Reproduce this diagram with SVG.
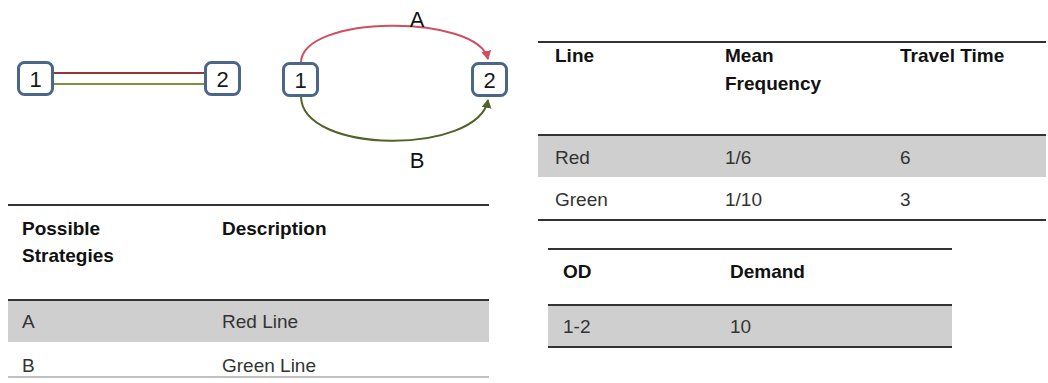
<svg xmlns="http://www.w3.org/2000/svg" width="1048" height="383" viewBox="0 0 1048 383">
<style>
.node{fill:#fff;stroke:#4a6689;stroke-width:3}
.nl{font-family:"Liberation Sans",Arial,sans-serif;font-size:22px;fill:#1a1a1a;text-anchor:middle}
.el{font-family:"Liberation Sans",Arial,sans-serif;font-size:22px;fill:#111;text-anchor:middle}
.th{font-family:"Liberation Sans",Arial,sans-serif;font-size:19px;font-weight:bold;fill:#111}
.td{font-family:"Liberation Sans",Arial,sans-serif;font-size:19px;fill:#333}
.rule{stroke:#333;stroke-width:2}
.band{fill:#cfcfcf}
</style>
<defs>
<marker id="arR" markerWidth="10" markerHeight="10" refX="8" refY="5" orient="auto" markerUnits="userSpaceOnUse">
<path d="M0,0 L9,5 L0,10 z" fill="#cf4f5f"/>
</marker>
<marker id="arG" markerWidth="10" markerHeight="10" refX="8" refY="5" orient="auto" markerUnits="userSpaceOnUse">
<path d="M0,0 L9,5 L0,10 z" fill="#4f6228"/>
</marker>
</defs>
<g id="connectors">
<line x1="52" y1="73" x2="205" y2="73" stroke="#953735" stroke-width="2"/>
<line x1="52" y1="84" x2="205" y2="84" stroke="#77933c" stroke-width="2"/>
<path d="M301,63 C301,14 478,14 488,59" fill="none" stroke="#cf4f5f" stroke-width="2" marker-end="url(#arR)"/>
<path d="M301,96 C301,155 478,155 488,100" fill="none" stroke="#4f6228" stroke-width="2" marker-end="url(#arG)"/>
<text class="el" x="417" y="27">A</text>
<text class="el" x="417" y="168">B</text>
</g>
<g id="left-node-1">
<rect class="node" x="18.5" y="62.5" width="34" height="32" rx="6"/>
<text class="nl" x="35.5" y="86.5">1</text>
</g>
<g id="left-node-2">
<rect class="node" x="205.5" y="62.5" width="34" height="32" rx="6"/>
<text class="nl" x="222.5" y="86.5">2</text>
</g>
<g id="right-node-1">
<rect class="node" x="283.5" y="63.5" width="34" height="32" rx="6"/>
<text class="nl" x="300.5" y="87.5">1</text>
</g>
<g id="right-node-2">
<rect class="node" x="472.5" y="63.5" width="34" height="32" rx="6"/>
<text class="nl" x="489.5" y="87.5">2</text>
</g>
<g id="strategies-table">
<rect class="band" x="8" y="301" width="481" height="41"/>
<line class="rule" x1="8" y1="205" x2="489" y2="205"/>
<line class="rule" x1="8" y1="300" x2="489" y2="300"/>
<line x1="8" y1="377" x2="489" y2="377" stroke="#aaa" stroke-width="1.5"/>
<text class="th" x="22" y="235">Possible</text>
<text class="th" x="22" y="262">Strategies</text>
<text class="th" x="222" y="235">Description</text>
<text class="td" x="22" y="328">A</text>
<text class="td" x="222" y="328">Red Line</text>
<text class="td" x="22" y="372">B</text>
<text class="td" x="222" y="372">Green Line</text>
</g>
<g id="lines-table">
<rect class="band" x="538" y="136" width="508" height="41"/>
<line class="rule" x1="538" y1="42" x2="1046" y2="42"/>
<line class="rule" x1="538" y1="135" x2="1046" y2="135"/>
<line class="rule" x1="538" y1="220" x2="1046" y2="220"/>
<text class="th" x="555" y="62">Line</text>
<text class="th" x="725" y="62">Mean</text>
<text class="th" x="725" y="90">Frequency</text>
<text class="th" x="900" y="62">Travel Time</text>
<text class="td" x="555" y="164">Red</text>
<text class="td" x="725" y="164">1/6</text>
<text class="td" x="900" y="164">6</text>
<text class="td" x="555" y="206">Green</text>
<text class="td" x="725" y="206">1/10</text>
<text class="td" x="900" y="206">3</text>
</g>
<g id="demand-table">
<rect class="band" x="548" y="306" width="404" height="41"/>
<line class="rule" x1="548" y1="249" x2="952" y2="249"/>
<line class="rule" x1="548" y1="305" x2="952" y2="305"/>
<line class="rule" x1="548" y1="347" x2="952" y2="347"/>
<text class="th" x="563" y="278">OD</text>
<text class="th" x="730" y="278">Demand</text>
<text class="td" x="563" y="333">1-2</text>
<text class="td" x="730" y="333">10</text>
</g>
</svg>
